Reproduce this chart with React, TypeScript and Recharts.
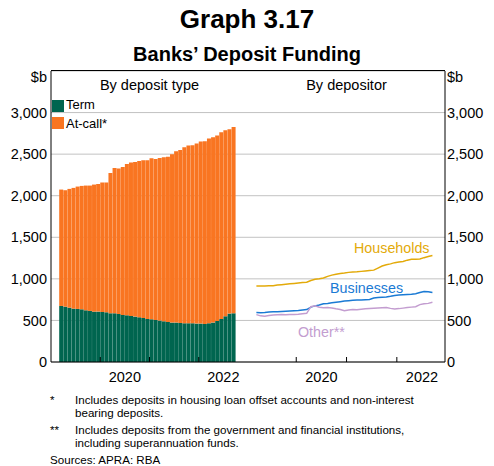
import { BarChart, Bar, LineChart, Line, XAxis, YAxis, CartesianGrid } from 'recharts';

const FONT = 'Arial, "Liberation Sans", Helvetica, sans-serif';

// monthly categories, Jan 2019 - Dec 2022
const years = ['2019', '2020', '2021', '2022'];
const monthNums = ['01', '02', '03', '04', '05', '06', '07', '08', '09', '10', '11', '12'];
const months: string[] = years.flatMap((y) => monthNums.map((m) => `${y}-${m}`));

// data starts Mar 2019 and runs to Sep 2022
const startMonth = '2019-03';

// $b, by deposit type
const term = [
  674, 666, 654, 642, 638, 634, 622, 614, 606, 606, 602, 598, 586, 586, 578, 566, 562, 554, 546, 538, 529, 517,
  514, 505, 498, 490, 481, 474, 474, 469, 466, 466, 466, 462, 462, 457, 466, 474, 493, 517, 550, 582, 586,
];
const atCall = [
  1400, 1400, 1428, 1452, 1472, 1484, 1500, 1508, 1528, 1536, 1556, 1560, 1688, 1748, 1748, 1780, 1820, 1844, 1860,
  1880, 1897, 1909, 1936, 1937, 1956, 1972, 1989, 2024, 2061, 2081, 2117, 2137, 2141, 2165, 2189, 2198, 2221, 2229,
  2230, 2246, 2237, 2217, 2241,
];

// $b, by depositor
const households = [
  914, 914, 915, 916, 918, 925, 930, 935, 940, 945, 950, 955, 960, 980, 995, 1000, 1010, 1030, 1045, 1055, 1065,
  1070, 1078, 1082, 1085, 1090, 1095, 1100, 1105, 1130, 1155, 1170, 1180, 1195, 1203, 1210, 1225, 1235, 1237, 1240,
  1255, 1268, 1280,
];
const businesses = [
  594, 592, 595, 600, 603, 605, 607, 610, 613, 617, 620, 625, 630, 660, 675, 685, 700, 705, 712, 718, 725, 733, 738,
  742, 745, 745, 748, 752, 770, 775, 778, 782, 790, 800, 805, 808, 812, 815, 822, 835, 848, 845, 835,
];
const other = [
  570, 555, 550, 558, 565, 568, 570, 568, 570, 572, 575, 580, 585, 665, 675, 658, 652, 655, 650, 640, 632, 618, 625,
  630, 628, 635, 640, 642, 645, 648, 652, 655, 645, 638, 642, 648, 655, 660, 665, 690, 700, 705, 718,
];

const yTicks = [0, 500, 1000, 1500, 2000, 2500, 3000];
const tickYears = ['2020', '2022'];

const first = months.indexOf(startMonth);
const pick = (arr: number[], i: number) => {
  const k = i - first;
  return k >= 0 && k < arr.length ? arr[k] : null;
};
const rows = months.map((m, i) => ({
  m,
  term: pick(term, i),
  atCall: pick(atCall, i),
  households: pick(households, i),
  businesses: pick(businesses, i),
  other: pick(other, i),
}));

const PLOT_W = 197;
const BAND = PLOT_W / months.length;

const GREEN = '#00654F';
const ORANGE = '#F97521';
const GOLD = '#E3AA0A';
const BLUE = '#1A7AD4';
const PURPLE = '#C39DD0';

const YearTick = (props: any) => {
  const { x, y, payload } = props;
  const [yr, mo] = String(payload.value).split('-');
  const bx = x - BAND / 2;
  if (mo === '01' && yr !== years[0]) {
    return <line x1={bx} x2={bx} y1={y} y2={y - 5} stroke="#000" strokeWidth={1} />;
  }
  if (mo === '07' && tickYears.includes(yr)) {
    return (
      <text x={bx} y={y + 20} textAnchor="middle" fill="#000" fontSize={14.5} fontFamily={FONT}>
        {yr}
      </text>
    );
  }
  return <g />;
};

const tickStyle = { fill: '#000', fontSize: 14.5, fontFamily: FONT };
const fmt = (v: number) => v.toLocaleString('en-US');

const abs = (left: number, top: number, extra: any = {}) => ({
  position: 'absolute' as const,
  left,
  top,
  whiteSpace: 'nowrap' as const,
  fontFamily: FONT,
  lineHeight: 1,
  color: '#000',
  ...extra,
});

export default function App() {
  return (
    <div
      style={{
        position: 'absolute',
        left: 0,
        top: 0,
        width: 494,
        height: 466,
        background: '#fff',
        overflow: 'hidden',
        fontFamily: FONT,
      }}
    >
      {/* Titles */}
      <div style={abs(0, 6, { width: 494, textAlign: 'center', fontSize: 26, fontWeight: 'bold' })}>Graph 3.17</div>
      <div style={abs(0, 44, { width: 494, textAlign: 'center', fontSize: 20, fontWeight: 'bold' })}>
        Banks’ Deposit Funding
      </div>

      {/* Left panel: by deposit type */}
      <div style={{ position: 'absolute', left: 0, top: 0 }}>
        <BarChart
          width={250}
          height={400}
          data={rows}
          margin={{ top: 71, right: 2, bottom: 8, left: 0 }}
          barCategoryGap={0}
          barGap={0}
        >
          <CartesianGrid vertical={false} stroke="#C2C2C2" />
          <XAxis
            dataKey="m"
            interval={0}
            height={30}
            tickSize={0}
            tickMargin={0}
            tickLine={false}
            axisLine={{ stroke: '#000' }}
            tick={<YearTick />}
          />
          <YAxis
            domain={[0, 3500]}
            ticks={yTicks}
            interval={0}
            width={51}
            tickSize={0}
            tickMargin={4}
            tickLine={false}
            axisLine={{ stroke: '#000' }}
            tick={tickStyle}
            tickFormatter={fmt}
          />
          <YAxis
            yAxisId="edge"
            orientation="right"
            domain={[0, 3500]}
            width={0}
            tick={false}
            tickLine={false}
            axisLine={{ stroke: '#000' }}
          />
          <Bar dataKey="term" stackId="a" fill={GREEN} isAnimationActive={false} />
          <Bar dataKey="atCall" stackId="a" fill={ORANGE} isAnimationActive={false} />
        </BarChart>
      </div>

      {/* Right panel: by depositor */}
      <div style={{ position: 'absolute', left: 248, top: 0 }}>
        <LineChart width={246} height={400} data={rows} margin={{ top: 71, right: 0, bottom: 8, left: 0 }}>
          <CartesianGrid vertical={false} stroke="#C2C2C2" />
          <XAxis
            dataKey="m"
            interval={0}
            height={30}
            tickSize={0}
            tickMargin={0}
            tickLine={false}
            axisLine={{ stroke: '#000' }}
            tick={<YearTick />}
          />
          <YAxis
            orientation="right"
            domain={[0, 3500]}
            ticks={yTicks}
            interval={0}
            width={49}
            tickSize={0}
            tickMargin={2}
            tickLine={false}
            axisLine={{ stroke: '#000' }}
            tick={tickStyle}
            tickFormatter={fmt}
          />
          <YAxis
            yAxisId="edge"
            orientation="left"
            domain={[0, 3500]}
            width={0}
            tick={false}
            tickLine={false}
            axisLine={{ stroke: '#000' }}
          />
          <Line dataKey="households" stroke={GOLD} strokeWidth={1.5} dot={false} isAnimationActive={false} />
          <Line dataKey="businesses" stroke={BLUE} strokeWidth={1.5} dot={false} isAnimationActive={false} />
          <Line dataKey="other" stroke={PURPLE} strokeWidth={1.5} dot={false} isAnimationActive={false} />
        </LineChart>
      </div>

      {/* top frame of the plot box */}
      <div style={abs(51, 70, { width: 394, height: 1, background: '#000' })} />

      {/* Unit labels */}
      <div style={abs(0, 70, { width: 47, textAlign: 'right', fontSize: 14.5 })}>$b</div>
      <div style={abs(447, 70, { fontSize: 14.5 })}>$b</div>

      {/* Panel titles */}
      <div style={abs(51, 78, { width: 197, textAlign: 'center', fontSize: 14.5 })}>By deposit type</div>
      <div style={abs(248, 78, { width: 197, textAlign: 'center', fontSize: 14.5 })}>By depositor</div>

      {/* Legend */}
      <div style={abs(52, 100, { width: 12, height: 12, background: GREEN })} />
      <div style={abs(66, 98, { fontSize: 13 })}>Term</div>
      <div style={abs(52, 117, { width: 12, height: 12, background: ORANGE })} />
      <div style={abs(66, 116.5, { fontSize: 13 })}>At-call*</div>

      {/* Line labels */}
      <div style={abs(354, 241, { fontSize: 14.3, color: GOLD })}>Households</div>
      <div style={abs(330, 281, { fontSize: 14.3, color: BLUE })}>Businesses</div>
      <div style={abs(298, 325, { fontSize: 14.3, color: PURPLE })}>Other**</div>

      {/* Notes */}
      <div style={abs(50, 393.5, { fontSize: 11.6 })}>*</div>
      <div style={abs(75, 393.5, { fontSize: 11.6 })}>
        Includes deposits in housing loan offset accounts and non-interest
      </div>
      <div style={abs(75, 407, { fontSize: 11.6 })}>bearing deposits.</div>
      <div style={abs(50, 423.7, { fontSize: 11.6 })}>**</div>
      <div style={abs(75, 423.7, { fontSize: 11.6 })}>
        Includes deposits from the government and financial institutions,
      </div>
      <div style={abs(75, 436.8, { fontSize: 11.6 })}>including superannuation funds.</div>
      <div style={abs(50, 454, { fontSize: 11.6 })}>Sources: APRA: RBA</div>
    </div>
  );
}
